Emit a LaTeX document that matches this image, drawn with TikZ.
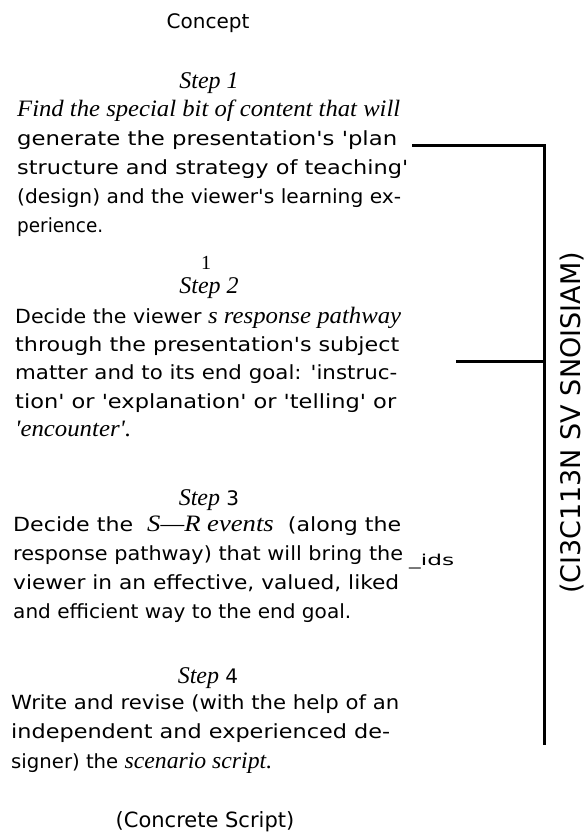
\documentclass[tikz,border=0pt]{standalone}
\usepackage{fontspec}
\usepackage{graphicx}
\setmainfont{DejaVu Sans}[Ligatures=TeXOff]
\newfontfamily\tms{Liberation Serif}[Ligatures=TeXOff]
\newcommand\jl[2]{\resizebox{#1pt}{\height}{\fontsize{19.5}{24}\selectfont #2}}
\newcommand\ti[1]{{\tms\itshape\fontsize{23.5}{29}\selectfont #1}}
\begin{document}
\begin{tikzpicture}[x=1pt,y=-1pt,
  body/.style={anchor=base west, inner sep=0pt},
  head/.style={anchor=base, inner sep=0pt, font=\tms\itshape\fontsize{24}{29}\selectfont},
  lbl/.style={inner sep=0pt},
  bar/.style={line width=3pt, line cap=rect}]
\useasboundingbox (0,0) rectangle (586,836);
\node[lbl, anchor=base] (concept) at (208,28) {\fontsize{20}{24}\selectfont Concept};
\node[head] (s1) at (209,88) {Step 1};
\node[body] (p1) at (17,116) {\parbox[t]{400pt}{\lineskiplimit=-20pt\baselineskip=29.2pt
\jl{383}{\ti{Find the special bit of content that will}}\\
\jl{380}{generate the presentation's 'plan}\\
\jl{391}{structure and strategy of teaching'}\\
\jl{384}{(design) and the viewer's learning ex-}\\
\jl{86}{perience.}}};
\node[lbl, anchor=base] (one) at (206,269) {\tms\fontsize{20}{24}\selectfont 1};
\node[head] (s2) at (209,293) {Step 2};
\node[body] (p2) at (15,323) {\parbox[t]{400pt}{\lineskiplimit=-20pt\baselineskip=28.4pt
\jl{386}{Decide the viewer \ti{s response pathway}}\\
\jl{384}{through the presentation's subject}\\
\jl{382}{matter and to its end goal: 'instruc-}\\
\jl{381}{tion' or 'explanation' or 'telling' or}\\
\jl{116}{\ti{'encounter'.}}}};
\node[head] (s3) at (209,505) {Step{\rmfamily\upshape\fontsize{20}{24}\selectfont\ 3}};
\node[body] (p3) at (13,531) {\parbox[t]{400pt}{\lineskiplimit=-20pt\baselineskip=29.3pt
\jl{388}{Decide the \ \ti{S—R events} \ (along the}\\
\jl{390}{response pathway) that will bring the}\\
\jl{386}{viewer in an effective, valued, liked}\\
\jl{338}{and efficient way to the end goal.}}};
\node[lbl, anchor=base west] (ids) at (409,565) {\scalebox{1.55}[1]{\fontsize{15}{18}\selectfont\_ids}};
\node[head] (s4) at (208,683) {Step{\rmfamily\upshape\fontsize{20}{24}\selectfont\ 4}};
\node[body] (p4) at (11,709) {\parbox[t]{400pt}{\lineskiplimit=-20pt\baselineskip=29.5pt
\jl{388}{Write and revise (with the help of an}\\
\jl{379}{independent and experienced de-}\\
\jl{261}{signer) the \ti{scenario script.}}}};
\node[lbl, anchor=base] (concrete) at (205,827) {\fontsize{21}{24}\selectfont (Concrete Script)};
\node[lbl, rotate=90] (side) at (572,423) {\fontsize{27}{30}\selectfont (CI3C113N SV SNOISIAM)};
\coordinate (t1) at (413,145);
\coordinate (tc) at (544,145);
\coordinate (m1) at (457,361);
\coordinate (mc) at (544,361);
\coordinate (bc) at (544,743);
\draw[bar] (t1) -- (tc) -- (bc);
\draw[bar] (m1) -- (mc);
\end{tikzpicture}
\end{document}
